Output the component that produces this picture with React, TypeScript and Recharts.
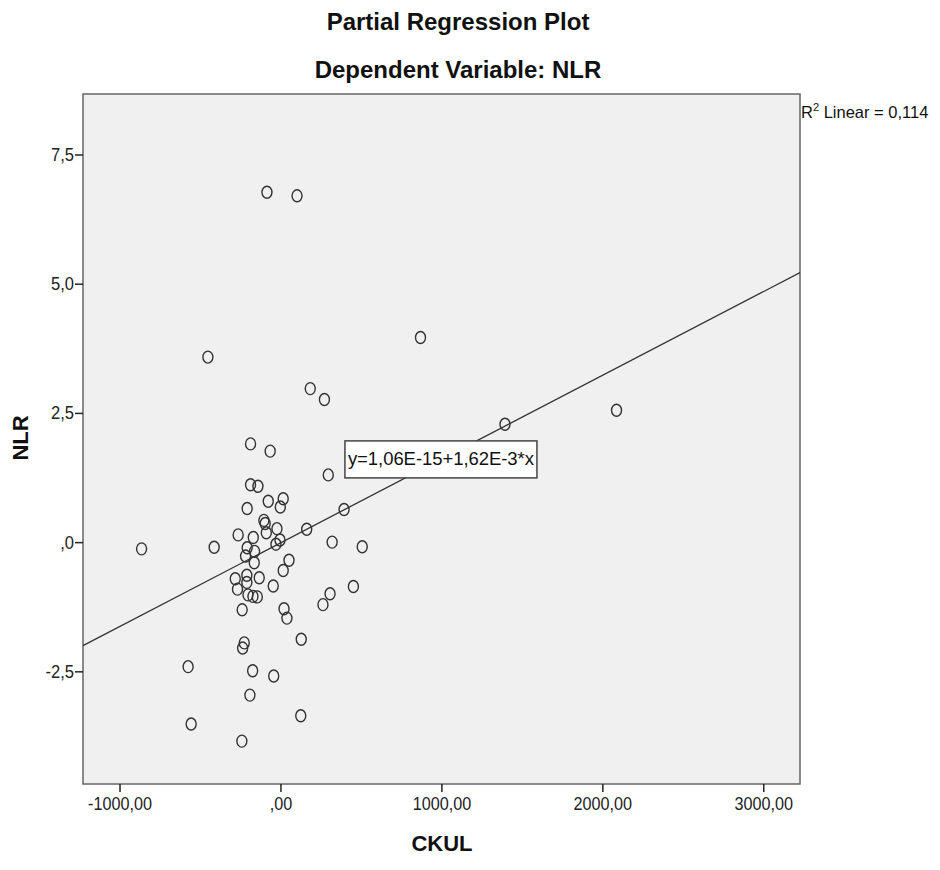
import React from 'react';
import {
  ScatterChart,
  Scatter,
  XAxis,
  YAxis,
  ReferenceArea,
  ReferenceLine,
  ReferenceDot,
} from 'recharts';

// CKUL (partial residual) values
const ckul = [
  -866, -454, -415, -87, 100, 867, 182, 270, 1392, 2085,
  -189, -67, 294, -189, -143, 14, -79, -4, -210, 392,
  -106, -98, -25, 160, -266, -172, -91, -6, -31, 318,
  505, -210, -164, -220, 50, -166, 14, -284, -212, -135,
  -270, -212, -48, 450, 305, 261, -205, -174, -147, -241,
  19, 37, 126, -228, -238, -577, -176, -45, -193, -558,
  123, -243,
];

// NLR (partial residual) values
const nlr = [
  -0.12, 3.59, -0.09, 6.78, 6.71, 3.97, 2.98, 2.77, 2.29, 2.56,
  1.91, 1.77, 1.31, 1.12, 1.09, 0.85, 0.8, 0.69, 0.66, 0.64,
  0.43, 0.37, 0.27, 0.26, 0.15, 0.1, 0.19, 0.05, -0.03, 0.01,
  -0.08, -0.1, -0.17, -0.26, -0.34, -0.39, -0.54, -0.7, -0.63, -0.68,
  -0.9, -0.77, -0.84, -0.85, -0.99, -1.2, -1.01, -1.04, -1.05, -1.3,
  -1.28, -1.46, -1.87, -1.94, -2.04, -2.4, -2.48, -2.58, -2.95, -3.51,
  -3.35, -3.84,
];

const xTicks = [-1000, 0, 1000, 2000, 3000];
const yTicks = [-2.5, 0, 2.5, 5, 7.5];
const xDomain = [-1230, 3225];
const yDomain = [-4.67, 8.68];

// fitted line from the chart annotation
const intercept = 1.06e-15;
const slope = 1.62e-3;
const fitLabel = 'y=1,06E-15+1,62E-3*x';
const rSquared = '0,114';

const points = ckul.map((x, i) => ({ x, y: nlr[i] }));

// SPSS style: comma decimal, no leading zero
const fmt = (v: number, digits: number) => {
  const s = Math.abs(v).toFixed(digits).replace('.', ',');
  const t = s.startsWith('0,') ? s.slice(1) : s;
  return (v < 0 ? '-' : '') + t;
};

const FONT = '"Liberation Sans", Arial, sans-serif';

const Ring = (props: any) => {
  const { cx, cy } = props;
  return <ellipse cx={cx} cy={cy} rx={5} ry={6} fill="none" stroke="#333" strokeWidth={1.4} />;
};

const XTick = (props: any) => {
  const { x, y, payload } = props;
  return (
    <g transform={`translate(${x},${y})`}>
      <text transform="scale(0.9,1)" textAnchor="middle" dy={16} fontSize={18} fontFamily={FONT} fill="#222">
        {fmt(payload.value, 2)}
      </text>
    </g>
  );
};

const YTick = (props: any) => {
  const { x, y, payload } = props;
  return (
    <g transform={`translate(${x + 1},${y})`}>
      <text transform="scale(0.92,1)" textAnchor="end" dy={6} fontSize={18} fontFamily={FONT} fill="#222">
        {fmt(payload.value, 1)}
      </text>
    </g>
  );
};

const FitBox = (props: any) => {
  const { cx, cy } = props;
  const w = 192;
  const h = 37;
  return (
    <g>
      <rect x={cx - w / 2} y={cy - h / 2} width={w} height={h} fill="#fff" stroke="#444" strokeWidth={1.5} />
      <text x={cx} y={cy + 6} textAnchor="middle" fontSize={18.5} fontFamily={FONT} fill="#111" textLength={186}>
        {fitLabel}
      </text>
    </g>
  );
};

export default function App() {
  return (
    <div style={{ position: 'relative', width: 932, height: 862, background: '#fff', fontFamily: FONT }}>
      <div style={{ position: 'absolute', left: 0, width: 900, top: 0, textAlign: 'center', fontSize: 24, fontWeight: 'bold', color: '#111' }}>
        Partial Regression Plot
      </div>
      <div style={{ position: 'absolute', left: 0, width: 900, top: 48, textAlign: 'center', fontSize: 24, fontWeight: 'bold', color: '#111' }}>
        Dependent Variable: NLR
      </div>
      <div style={{ position: 'absolute', left: 793, top: 93, fontSize: 16.5, color: '#111', whiteSpace: 'nowrap' }}>
        R<sup style={{ fontSize: 11 }}>2</sup> Linear = {rSquared}
      </div>
      <div style={{ position: 'absolute', left: 434 - 100, width: 200, top: 823, textAlign: 'center', fontSize: 22, fontWeight: 'bold', color: '#111' }}>
        CKUL
      </div>
      <div
        style={{
          position: 'absolute',
          left: 13 - 100,
          width: 200,
          top: 430 - 13,
          textAlign: 'center',
          fontSize: 22,
          fontWeight: 'bold',
          color: '#111',
          transform: 'rotate(-90deg)',
        }}
      >
        NLR
      </div>
      <ScatterChart width={932} height={862} margin={{ top: 86, right: 140, bottom: 0, left: 0 }}>
        <XAxis
          type="number"
          dataKey="x"
          domain={xDomain}
          ticks={xTicks}
          allowDataOverflow
          height={86}
          axisLine={false}
          tickSize={8}
          tickLine={{ stroke: '#222', strokeWidth: 1.5 }}
          tick={<XTick />}
        />
        <YAxis
          type="number"
          dataKey="y"
          domain={yDomain}
          ticks={yTicks}
          allowDataOverflow
          width={75}
          axisLine={false}
          tickSize={8}
          tickLine={{ stroke: '#222', strokeWidth: 1.5 }}
          tick={<YTick />}
        />
        <ReferenceArea
          x1={xDomain[0]}
          x2={xDomain[1]}
          y1={yDomain[0]}
          y2={yDomain[1]}
          fill="#f0f0f0"
          fillOpacity={1}
          stroke="#666"
          strokeWidth={1.5}
        />
        <ReferenceLine
          segment={[
            { x: xDomain[0], y: intercept + slope * xDomain[0] },
            { x: xDomain[1], y: intercept + slope * xDomain[1] },
          ]}
          stroke="#333"
          strokeWidth={1.3}
        />
        <Scatter data={points} shape={Ring} isAnimationActive={false} />
        <ReferenceDot x={994} y={intercept + slope * 994} shape={FitBox} />
      </ScatterChart>
    </div>
  );
}
